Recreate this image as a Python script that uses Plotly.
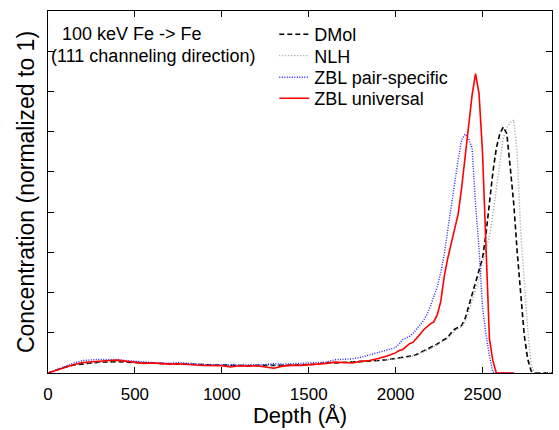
import plotly.graph_objects as go

depth = list(range(0, 2001, 50)) + list(range(2020, 2901, 20))

dmol = [0, 0.07, 0.15, 0.20, 0.23, 0.25, 0.27, 0.28, 0.28, 0.27, 0.26, 0.25, 0.24, 0.23, 0.23, 0.22,
        0.22, 0.21, 0.20, 0.20, 0.20, 0.19, 0.19, 0.18, 0.19, 0.19, 0.18, 0.19, 0.20, 0.20, 0.21,
        0.22, 0.26, 0.25, 0.26, 0.27, 0.28, 0.29, 0.31, 0.33, 0.36,
        0.37, 0.38, 0.39, 0.41, 0.43, 0.46, 0.50, 0.54, 0.58, 0.62, 0.67, 0.72, 0.78, 0.82,
        0.88, 1.00, 1.09, 1.13, 1.18, 1.35, 1.65, 1.95, 2.25, 2.55, 2.85, 3.45, 4.25, 5.00,
        5.60, 5.95, 6.12, 5.95, 5.10, 4.20, 3.00, 1.85, 0.95, 0.35, 0.05, 0, 0, 0, 0, 0, 0]

nlh = [0, 0.07, 0.16, 0.21, 0.24, 0.26, 0.27, 0.28, 0.29, 0.28, 0.27, 0.26, 0.25, 0.24, 0.23, 0.23,
       0.22, 0.21, 0.21, 0.20, 0.20, 0.19, 0.20, 0.19, 0.19, 0.20, 0.19, 0.19, 0.20, 0.21, 0.21,
       0.22, 0.25, 0.26, 0.27, 0.27, 0.28, 0.30, 0.31, 0.33, 0.35,
       0.36, 0.37, 0.38, 0.40, 0.42, 0.45, 0.48, 0.52, 0.56, 0.60, 0.65, 0.70, 0.76, 0.80,
       0.86, 0.96, 1.05, 1.10, 1.15, 1.28, 1.50, 1.80, 2.10, 2.35, 2.75, 3.10, 3.40, 3.95,
       4.60, 5.30, 5.85, 6.10, 6.22, 6.29, 5.45, 3.50, 2.20, 1.10, 0.20, 0, 0, 0, 0, 0, 0]

zbl_pair = [0, 0.08, 0.17, 0.25, 0.31, 0.33, 0.34, 0.33, 0.33, 0.31, 0.29, 0.27, 0.26, 0.25, 0.24, 0.26,
            0.24, 0.22, 0.21, 0.20, 0.20, 0.19, 0.20, 0.19, 0.20, 0.21, 0.23, 0.22, 0.23, 0.24, 0.25,
            0.26, 0.27, 0.33, 0.34, 0.35, 0.39, 0.45, 0.50, 0.57, 0.63,
            0.72, 0.83, 0.87, 0.91, 0.98, 1.08, 1.18, 1.30, 1.45, 1.65, 1.90, 2.15, 2.50, 2.95,
            3.55, 4.15, 4.75, 5.30, 5.80, 5.94, 5.82, 5.60, 4.20, 3.10, 1.65, 0.95, 0.42, 0.02,
            0, 0, 0, 0, 0, 0, None, None, None, None, None, None, None, None, None, None, None]

zbl_univ = [0, 0.07, 0.15, 0.21, 0.26, 0.28, 0.29, 0.31, 0.32, 0.29, 0.27, 0.24, 0.25, 0.24, 0.22, 0.23,
            0.21, 0.20, 0.19, 0.19, 0.18, 0.15, 0.18, 0.17, 0.18, 0.15, 0.12, 0.17, 0.19, 0.19, 0.20,
            0.22, 0.24, 0.27, 0.26, 0.25, 0.29, 0.31, 0.36, 0.42, 0.50,
            0.56, 0.58, 0.66, 0.73, 0.76, 0.85, 0.96, 1.07, 1.15, 1.22, 1.27, 1.45, 1.78, 2.40,
            2.85, 3.20, 3.55, 3.95, 4.60, 5.35, 6.20, 6.90, 7.44, 6.95, 5.50, 3.00, 0.85, 0.30,
            0, 0, 0, 0, 0, 0, None, None, None, None, None, None, None, None, None, None, None]

x_ticks = [0, 500, 1000, 1500, 2000, 2500]

FONT = "Liberation Sans, Arial, Helvetica, sans-serif"

fig = go.Figure()
fig.add_trace(go.Scatter(x=depth, y=dmol, name="DMol", mode="lines", legend="legend",
                         line=dict(color="black", width=1.6, dash="5px,3px")))
fig.add_trace(go.Scatter(x=depth, y=nlh, name="NLH", mode="lines", legend="legend2",
                         line=dict(color="#999999", width=1.4, dash="1px,2px")))
fig.add_trace(go.Scatter(x=depth, y=zbl_pair, name="ZBL pair-specific", mode="lines", legend="legend3",
                         line=dict(color="#2222ff", width=1.4, dash="1px,1.5px")))
fig.add_trace(go.Scatter(x=depth, y=zbl_univ, name="ZBL universal", mode="lines", legend="legend4",
                         line=dict(color="#ff0000", width=1.6)))

axis_common = dict(showline=True, linecolor="black", linewidth=1.2, mirror="ticks",
                   ticks="inside", ticklen=6, tickcolor="black", tickwidth=1,
                   showgrid=False, zeroline=False, automargin=False)

fig.update_xaxes(range=[0, 2900], tickvals=x_ticks, ticktext=[str(v) for v in x_ticks],
                 tickfont=dict(size=17, color="black"), ticklabelstandoff=5,
                 title=dict(text="Depth (Å)", font=dict(size=22, color="black"), standoff=3),
                 **axis_common)
fig.update_yaxes(range=[0, 9], dtick=1, showticklabels=False,
                 title=dict(text="Concentration (normalized to 1)", font=dict(size=23, color="black"), standoff=5),
                 **axis_common)

fig.add_annotation(text="100 keV Fe -> Fe", xref="paper", yref="paper", x=0.023, y=0.936,
                   xanchor="left", yanchor="middle", showarrow=False,
                   font=dict(size=18, color="black", family=FONT))
fig.add_annotation(text="(111 channeling direction)", xref="paper", yref="paper", x=0.002, y=0.875,
                   xanchor="left", yanchor="middle", showarrow=False,
                   font=dict(size=18, color="black", family=FONT))

leg = dict(x=0.449, xanchor="left", yanchor="middle", bgcolor="rgba(0,0,0,0)",
           font=dict(size=18, color="black", family=FONT), itemwidth=30, borderwidth=0)

fig.update_layout(
    width=559, height=430,
    margin=dict(l=48, r=7, t=11, b=57),
    paper_bgcolor="white", plot_bgcolor="white",
    font=dict(family=FONT, color="black"),
    legend=dict(y=0.935, **leg),
    legend2=dict(y=0.876, **leg),
    legend3=dict(y=0.816, **leg),
    legend4=dict(y=0.758, **leg),
    showlegend=True,
)

fig.write_html("out.html", config={"displayModeBar": False},
               post_script="document.body.style.margin='0';document.body.style.overflow='hidden';")
